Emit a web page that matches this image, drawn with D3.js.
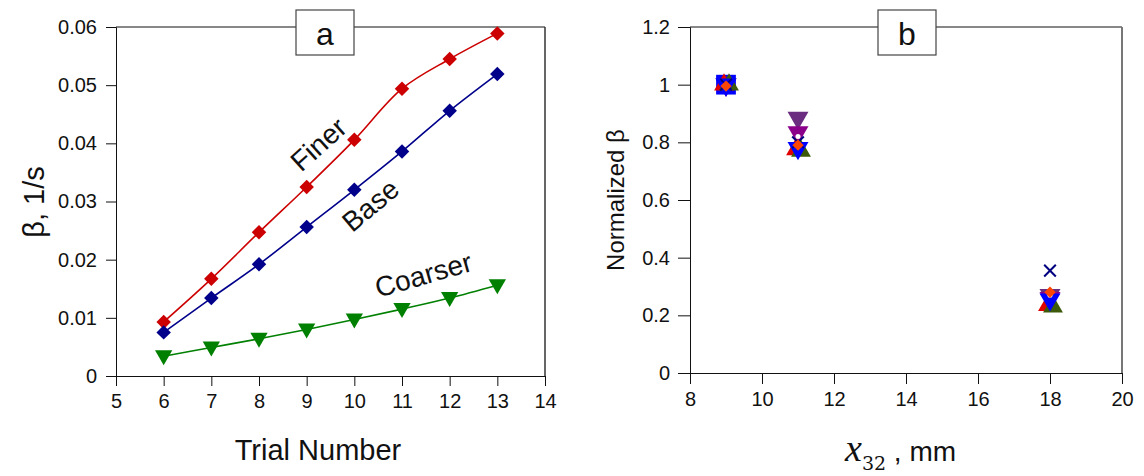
<!DOCTYPE html>
<html>
<head>
<meta charset="utf-8">
<script src="https://cdn.jsdelivr.net/npm/d3@7"></script>
<style>
  body { margin: 0; background: #fff; }
  svg { display: block; font-family: "Liberation Sans", Arial, sans-serif; }
</style>
</head>
<body>
<div id="chart"></div>
<script>
// panel a : beta vs trial number
const trials = [6, 7, 8, 9, 10, 11, 12, 13];
const finer = [0.0093, 0.0167, 0.0247, 0.0325, 0.0406, 0.0494, 0.0545, 0.0589];
const base = [0.0075, 0.0134, 0.0192, 0.0256, 0.0320, 0.0386, 0.0456, 0.0519];
const coarser = [0.0034, 0.0049, 0.0064, 0.0080, 0.0097, 0.0115, 0.0134, 0.0156];
const xTicksA = [5, 6, 7, 8, 9, 10, 11, 12, 13, 14];
const yTicksA = [0, 0.01, 0.02, 0.03, 0.04, 0.05, 0.06];

// panel b : normalized beta vs x32 (null = marker hidden under others)
const x32 = [9, 11, 18];
const normBlueSq = [1.0, null, null];
const normPurple = [1.0, 0.885, 0.27];
const normPurple2 = [1.0, 0.835, 0.26];
const normRed = [1.0, 0.775, 0.235];
const normGreen = [1.0, 0.77, 0.23];
const normBlueTri = [1.0, 0.78, 0.255];
const normWhite = [1.0, 0.82, 0.27];
const normNavyX = [1.0, 0.80, 0.355];
const normOrange = [0.995, 0.79, 0.28];
const xTicksB = [8, 10, 12, 14, 16, 18, 20];
const yTicksB = [0, 0.2, 0.4, 0.6, 0.8, 1, 1.2];

const W = 1144, H = 476;
const svg = d3.select("#chart").append("svg").attr("width", W).attr("height", H);

// ---------- panel a ----------
const xa = d3.scaleLinear().domain([5, 14]).range([116, 545]);
const ya = d3.scaleLinear().domain([0, 0.06]).range([376, 27]);

const ga = svg.append("g");
ga.append("g")
  .attr("transform", "translate(0,376)")
  .call(d3.axisBottom(xa).tickValues(xTicksA).tickFormat(d3.format("d")).tickSize(10).tickPadding(8));
ga.append("g")
  .attr("transform", "translate(116,0)")
  .call(d3.axisLeft(ya).tickValues(yTicksA).tickFormat(d => d === 0 ? "0" : d3.format(".2f")(d)).tickSize(10).tickPadding(9));
ga.selectAll(".tick text").style("font-size", "20px").attr("fill", "#111");
ga.selectAll(".domain, .tick line").attr("stroke", "#111");
// frame
ga.append("line").attr("x1", 116).attr("x2", 545).attr("y1", 27).attr("y2", 27).attr("stroke", "#111");
ga.append("line").attr("x1", 545).attr("x2", 545).attr("y1", 27).attr("y2", 376).attr("stroke", "#333").attr("stroke-width", 1.5);

const seriesA = [
  { vals: finer, color: "#cc0000", shape: "diamond" },
  { vals: base, color: "#00008b", shape: "diamond" },
  { vals: coarser, color: "#008000", shape: "tri" }
];
const line = d3.line().x(d => xa(d[0])).y(d => ya(d[1])).curve(d3.curveCatmullRom.alpha(0.5));
seriesA.forEach(s => {
  const pts = trials.map((t, i) => [t, s.vals[i]]);
  ga.append("path").attr("d", line(pts)).attr("fill", "none").attr("stroke", s.color).attr("stroke-width", 1.6);
  ga.append("g").selectAll("path").data(pts).join("path")
    .attr("transform", d => s.shape === "diamond"
      ? `translate(${xa(d[0])},${ya(d[1])}) rotate(45)`
      : `translate(${xa(d[0])},${ya(d[1]) - 1}) rotate(180)`)
    .attr("d", s.shape === "diamond" ? d3.symbol(d3.symbolSquare, 105)() : d3.symbol(d3.symbolTriangle, 130)())
    .attr("fill", s.color);
});

// curve labels
const lab = (txt, x, y, rot) => ga.append("text").attr("transform", `translate(${x},${y}) rotate(${rot})`)
  .attr("text-anchor", "middle").attr("dominant-baseline", "middle").style("font-size", "28px").attr("fill", "#111").text(txt);
lab("Finer", 320, 146, -42);
lab("Base", 372, 207, -40);
lab("Coarser", 424, 277, -16);

ga.append("text").attr("x", 318).attr("y", 460).attr("text-anchor", "middle").style("font-size", "29px").attr("fill", "#111").text("Trial Number");
ga.append("text").attr("transform", "translate(44,202) rotate(-90)").attr("text-anchor", "middle").style("font-size", "29px").attr("fill", "#111").text("β, 1/s");

// label box a
ga.append("rect").attr("x", 296).attr("y", 10).attr("width", 58).attr("height", 45).attr("fill", "#fff").attr("stroke", "#444").attr("stroke-width", 1.2);
ga.append("text").attr("x", 325).attr("y", 45).attr("text-anchor", "middle").style("font-size", "32px").attr("fill", "#111").text("a");

// ---------- panel b ----------
const xb = d3.scaleLinear().domain([8, 20]).range([690, 1122]);
const yb = d3.scaleLinear().domain([0, 1.2]).range([373, 27]);
const gb = svg.append("g");
gb.append("g")
  .attr("transform", "translate(0,373)")
  .call(d3.axisBottom(xb).tickValues(xTicksB).tickSize(11).tickPadding(8));
gb.append("g")
  .attr("transform", "translate(690,0)")
  .call(d3.axisLeft(yb).tickValues(yTicksB).tickFormat(d => String(d)).tickSize(12).tickPadding(8));
gb.selectAll(".tick text").style("font-size", "20px").attr("fill", "#111");
gb.selectAll(".domain, .tick line").attr("stroke", "#111");
gb.append("line").attr("x1", 690).attr("x2", 1122).attr("y1", 27).attr("y2", 27).attr("stroke", "#111");
gb.append("line").attr("x1", 1122).attr("x2", 1122).attr("y1", 27).attr("y2", 373).attr("stroke", "#777").attr("stroke-width", 2);

// drawing order matters: later series sit on top
const seriesB = [
  { vals: normPurple, color: "#6a2d80", type: "triDown", dx: 0 },
  { vals: normPurple2, color: "#8b008b", type: "triDown", dx: 0 },
  { vals: normBlueSq, color: "#0000ff", type: "square", dx: 0 },
  { vals: normRed, color: "#e00000", type: "triUp", dx: -2 },
  { vals: normGreen, color: "#3d5a0a", type: "triUp", dx: 3 },
  { vals: normBlueTri, color: "#0000ff", type: "triDown", dx: 0 },
  { vals: normWhite, color: "#ffffff", type: "dot", dx: 0 },
  { vals: normNavyX, color: "#000080", type: "x", dx: 0 },
  { vals: normOrange, color: "#ff4500", type: "diamond", dx: 0 }
];
const sym = {
  triUp: d3.symbol(d3.symbolTriangle, 170)(),
  triDown: d3.symbol(d3.symbolTriangle, 190)(),
  square: d3.symbol(d3.symbolSquare, 390)(),
  diamond: d3.symbol(d3.symbolSquare, 64)(),
  dot: d3.symbol(d3.symbolCircle, 20)(),
  x: d3.symbol(d3.symbolX, 90)()
};
seriesB.forEach(s => {
  const pts = x32.map((x, i) => [x, s.vals[i]]).filter(d => d[1] != null);
  gb.append("g").selectAll("path").data(pts).join("path")
    .attr("transform", d => {
      const t = `translate(${xb(d[0]) + s.dx},${yb(d[1])})`;
      if (s.type === "triDown") return t + " rotate(180)";
      if (s.type === "diamond") return t + " rotate(45)";
      return t;
    })
    .attr("d", sym[s.type])
    .attr("fill", s.type === "x" ? "none" : s.color)
    .attr("stroke", s.type === "x" ? s.color : "none")
    .attr("stroke-width", 2);
});

gb.append("text").attr("transform", "translate(624,200) rotate(-90)").attr("text-anchor", "middle").style("font-size", "24px").attr("fill", "#111").text("Normalized β");

const xl = gb.append("text").attr("x", 845).attr("y", 461).attr("fill", "#111");
xl.append("tspan").style("font-family", "'Liberation Serif', serif").style("font-style", "italic").style("font-size", "38px").text("x");
xl.append("tspan").attr("dy", 9).style("font-family", "'DejaVu Serif', serif").style("font-size", "19px").text("32");
xl.append("tspan").attr("dy", -9).style("font-size", "28px").text(" , mm");

gb.append("rect").attr("x", 878).attr("y", 10).attr("width", 58).attr("height", 45).attr("fill", "#fff").attr("stroke", "#444").attr("stroke-width", 1.2);
gb.append("text").attr("x", 907).attr("y", 45).attr("text-anchor", "middle").style("font-size", "32px").attr("fill", "#111").text("b");
</script>
</body>
</html>
